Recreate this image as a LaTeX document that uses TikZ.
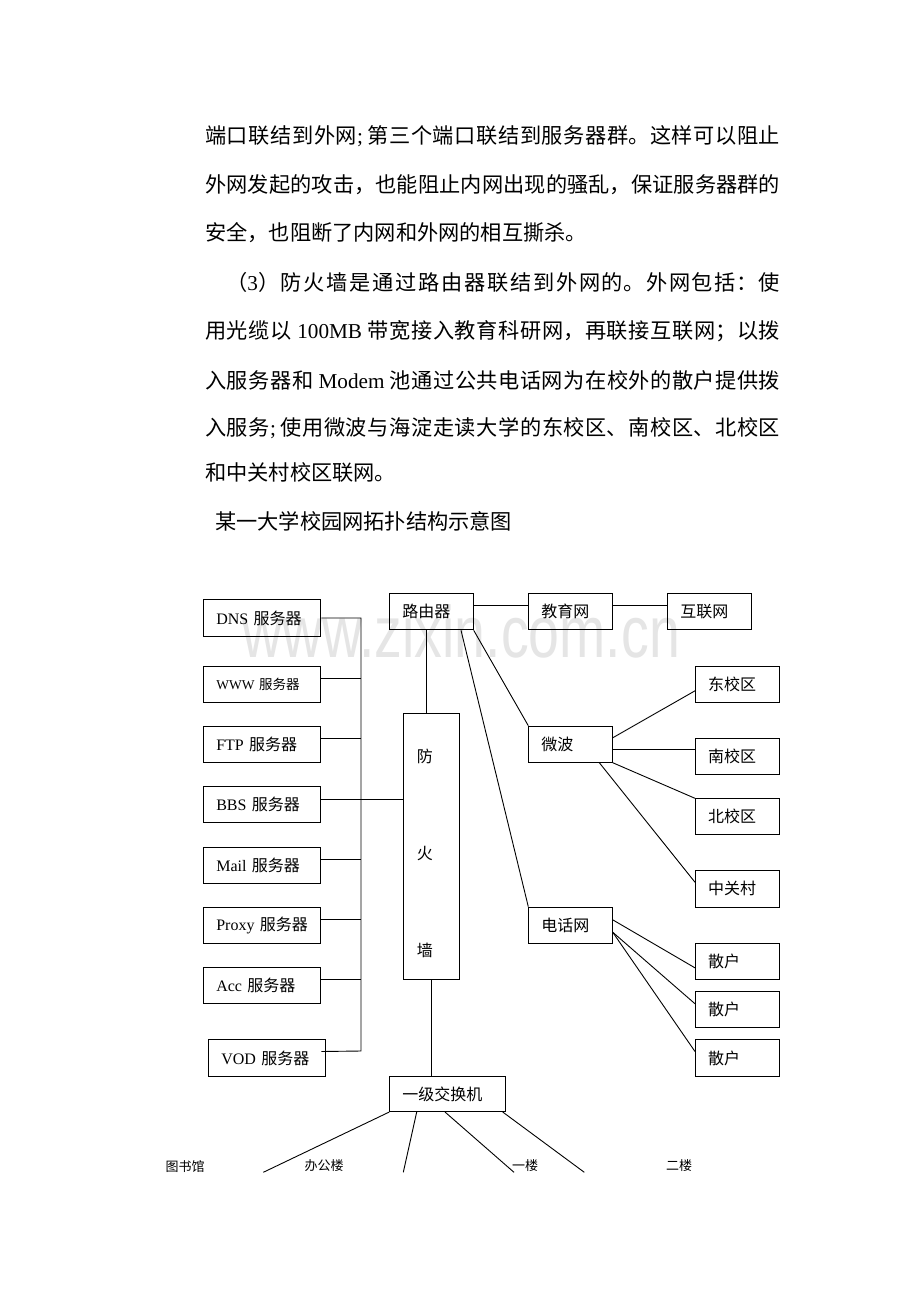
\documentclass[tikz,border=0pt]{standalone}
\usepackage{fontspec}
\setmainfont{Noto Sans CJK SC}
\newfontfamily\tm{Liberation Serif}
\newfontfamily\wmfont{Liberation Sans}
\XeTeXlinebreaklocale "zh"
\XeTeXlinebreakskip=0pt plus 2pt
\newcommand\jline[2]{\parbox{#1}{\tolerance=10000\hbadness=10000\pretolerance=10000\parfillskip=0pt\relax #2}}
\newcommand\hsemi{\makebox[0.5em][l]{\tm ;}}
\begin{document}
\begin{tikzpicture}[x=1pt,y=-1pt,
  box/.style={draw, line width=1pt, anchor=north west, inner xsep=12.5pt, inner ysep=0pt, align=left, font=\fontsize{16}{18}\selectfont},
  ln/.style={line width=0.9pt},
  body/.style={anchor=west, inner sep=0pt, font=\fontsize{21.2}{24}\selectfont},
  small/.style={font=\fontsize{13}{15}\selectfont, inner sep=0pt},
  fwtext/.style={anchor=west, inner sep=0pt, font=\fontsize{16}{18}\selectfont}]
\useasboundingbox[fill=white] (0,0) rectangle (920,1302);

% watermark
\node[font=\wmfont\fontsize{73}{73}\selectfont, text=black!10, xscale=0.76, anchor=base west, inner sep=0pt] (wm) at (242,657) {www.zixin.com.cn};

% body text
\node[body] (t1) at (205,136) {\jline{575pt}{端口联结到外网\hsemi 第三个端口联结到服务器群。这样可以阻止}};
\node[body] (t2) at (205,185) {\jline{575pt}{外网发起的攻击，也能阻止内网出现的骚乱，保证服务器群的}};
\node[body] (t3) at (205,233) {安全，也阻断了内网和外网的相互撕杀。};
\node[body] (t4) at (226,282) {\jline{554pt}{（{\tm 3}）防火墙是通过路由器联结到外网的。外网包括：使}};
\node[body] (t5) at (205,331) {\jline{575pt}{用光缆以 {\tm 100MB} 带宽接入教育科研网，再联接互联网；以拨}};
\node[body] (t6) at (205,380) {\jline{575pt}{入服务器和 {\tm Modem} 池通过公共电话网为在校外的散户提供拨}};
\node[body] (t7) at (205,428) {\jline{575pt}{入服务\hsemi 使用微波与海淀走读大学的东校区、南校区、北校区}};
\node[body] (t8) at (205,472) {和中关村校区联网。};
\node[body] (title) at (215,521) {某一大学校园网拓扑结构示意图};

% server boxes
\node[box, text width=92pt, minimum height=36.3pt] (dns) at (203.3,599.3) {\mbox{{\tm DNS} 服务器}};
\node[box, text width=92pt, minimum height=36pt, font=\fontsize{13.5}{15}\selectfont] (www) at (203.3,665.7) {\mbox{{\tm WWW} 服务器}};
\node[box, text width=92pt, minimum height=36pt] (ftp) at (203.3,725.7) {\mbox{{\tm FTP} 服务器}};
\node[box, text width=92pt, minimum height=36.3pt] (bbs) at (203.3,786) {\mbox{{\tm BBS} 服务器}};
\node[box, text width=92pt, minimum height=36pt] (mail) at (203.3,846.7) {\mbox{{\tm Mail} 服务器}};
\node[box, text width=92pt, minimum height=36pt] (proxy) at (203.3,906.7) {\mbox{{\tm Proxy} 服务器}};
\node[box, text width=92pt, minimum height=36pt] (acc) at (203.3,967.3) {\mbox{{\tm Acc} 服务器}};
\node[box, text width=92pt, minimum height=36.4pt] (vod) at (208.3,1039.3) {\mbox{{\tm VOD} 服务器}};

% centre
\node[box, text width=58.4pt, minimum height=36pt] (router) at (389.3,593.3) {\mbox{路由器}};
\node[box, minimum width=56pt, minimum height=265.7pt] (fw) at (403.3,713.3) {};
\node[fwtext] (fw1) at (416.7,756.7) {防};
\node[fwtext] (fw2) at (416.7,854) {火};
\node[fwtext] (fw3) at (416.7,950) {墙};
\node[box, text width=90.7pt, minimum height=35pt] (sw) at (389.3,1076) {\mbox{一级交换机}};

% right
\node[box, text width=58.4pt, minimum height=36pt] (edu) at (528.3,593.3) {\mbox{教育网}};
\node[box, text width=58.7pt, minimum height=36pt] (inet) at (667.3,593.3) {\mbox{互联网}};
\node[box, text width=58.4pt, minimum height=36pt] (mw) at (528.3,725.7) {\mbox{微波}};
\node[box, text width=58.4pt, minimum height=36pt] (tel) at (528.3,906.7) {\mbox{电话网}};
\node[box, text width=59pt, minimum height=36pt] (east) at (695,665.7) {\mbox{东校区}};
\node[box, text width=59pt, minimum height=36pt] (south) at (695,738) {\mbox{南校区}};
\node[box, text width=59pt, minimum height=36pt] (north) at (695,798.3) {\mbox{北校区}};
\node[box, text width=59pt, minimum height=36.7pt] (zgc) at (695,870) {\mbox{中关村}};
\node[box, text width=59pt, minimum height=36.3pt] (s1) at (695,942.7) {\mbox{散户}};
\node[box, text width=59pt, minimum height=36.3pt] (s2) at (695,991) {\mbox{散户}};
\node[box, text width=59pt, minimum height=36.4pt] (s3) at (695,1039.3) {\mbox{散户}};

% bottom labels
\node[small] (lib) at (185,1166.5) {图书馆};
\node[small] (off) at (324,1165.5) {办公楼};
\node[small] (f1) at (525,1166) {一楼};
\node[small] (f2) at (679,1166) {二楼};

% server bus
\coordinate (busbot) at (361,1051);
\coordinate (v1) at ([xshift=-5pt,yshift=6.5pt]vod.east);
\draw[ln] (dns.east) -| (busbot) -- (v1);
\foreach \n in {www,ftp,mail,proxy,acc}{
  \coordinate (\n p) at ([yshift=6pt]\n.east);
  \draw[ln] (\n p) -- (\n p -| busbot);
}
\coordinate (bbsp) at ([yshift=5.7pt]bbs.east);
\draw[ln] (bbsp) -- (bbsp -| fw.west);

% router / firewall / switch
\coordinate (rf) at ([xshift=-5.3pt]fw.north);
\draw[ln] (rf) -- (rf |- router.south);
\draw[ln] (fw.south) -- (fw.south |- sw.north);
\draw[ln] ([yshift=6pt]router.east) -- ([yshift=6pt]edu.west);
\draw[ln] ([yshift=6pt]edu.east) -- ([yshift=6pt]inet.west);
\draw[ln] (router.south east) -- (mw.north west);
\draw[ln] ([xshift=-12.7pt]router.south east) -- (tel.north west);

% microwave
\draw[ln] ([yshift=6.4pt]mw.east) -- ([yshift=-6.6pt]east.west);
\coordinate (mw2) at ([yshift=-5.6pt]mw.east);
\draw[ln] (mw2) -- (mw2 -| south.west);
\draw[ln] (mw.south east) -- (north.north west);
\draw[ln] ([xshift=-13.4pt]mw.south east) -- ([yshift=6.6pt]zgc.west);

% telephone
\draw[ln] ([yshift=5.4pt]tel.east) -- ([yshift=-6.5pt]s1.west);
\draw[ln] ([yshift=-7pt]tel.east) -- ([yshift=5.9pt]s2.west);
\draw[ln] ([yshift=-7pt]tel.east) -- ([yshift=6.5pt]s3.west);

% switch to buildings
\coordinate (e1) at (263.3,1172.3);
\coordinate (e2) at (403.3,1172.3);
\coordinate (e3) at (514,1172.3);
\coordinate (e4) at (584.3,1172.3);
\draw[ln] (sw.south west) -- (e1);
\draw[ln] ([xshift=27.4pt]sw.south west) -- (e2);
\draw[ln] ([xshift=55.7pt]sw.south west) -- (e3);
\draw[ln] ([xshift=-3.3pt]sw.south east) -- (e4);
\end{tikzpicture}
\end{document}
